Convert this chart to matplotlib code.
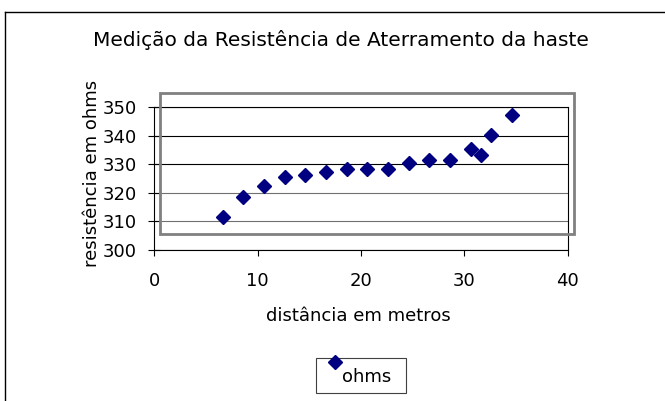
import matplotlib
matplotlib.use("Agg")
import matplotlib.pyplot as plt
from matplotlib.patches import Rectangle
from matplotlib.lines import Line2D

# leituras da haste
distancia = [6.6, 8.6, 10.6, 12.6, 14.6, 16.6, 18.6, 20.6, 22.6, 24.6, 26.6, 28.6, 30.6, 31.6, 32.6, 34.6]
ohms = [311.6, 318.7, 322.4, 325.5, 326.4, 327.4, 328.5, 328.5, 328.5, 330.4, 331.4, 331.4, 335.4, 333.4, 340.3, 347.3]
xticks = [0, 10, 20, 30, 40]
yticks = [300, 310, 320, 330, 340, 350]

W, H = 665, 401
navy = "#000080"
plt.rcParams["font.family"] = ["DejaVu Sans"]
fs = 13

fig = plt.figure(figsize=(W / 100, H / 100), dpi=100, facecolor="w")
ax = fig.add_axes([154.3 / W, 1 - 250 / H, 413.4 / W, 142.7 / H])

ax.set_xlim(0, 40)
ax.set_ylim(300, 350)
ax.set_xticks(xticks)
ax.set_yticks(yticks)
ax.yaxis.grid(True, color="k", lw=0.8)
# as duas linhas de baixo saem mais claras no original
for gl, v in zip(ax.get_ygridlines(), yticks):
    if v in (310, 320):
        gl.set_color("#707070")
ax.set_axisbelow(True)
for s in ax.spines.values():
    s.set_color("k")
    s.set_linewidth(0.8)
ax.tick_params(axis="x", direction="out", length=4, width=0.8, pad=12, labelsize=fs)
ax.tick_params(axis="y", direction="inout", length=9, width=0.8, pad=8, labelsize=fs)

ax.plot(distancia, ohms, "D", color=navy, ms=7.6, mec=navy, clip_on=False, zorder=3)

fig.text(340.5 / W, 1 - 40 / H, "Medição da Resistência de Aterramento da haste",
         ha="center", va="center", fontsize=14.5)
fig.text(358 / W, 1 - 316 / H, "distância em metros", ha="center", va="center", fontsize=fs)
fig.text(92 / W, 1 - 173 / H, "resistência em ohms", ha="center", va="center",
         rotation=90, fontsize=fs)

# moldura cinza deslocada da área do gráfico
fig.add_artist(Rectangle((160 / W, 1 - 234 / H), 414 / W, 141.3 / H, transform=fig.transFigure,
                         fill=False, ec="#808080", lw=2))

# borda externa
fig.add_artist(Line2D([5 / W, 1], [1 - 11.7 / H] * 2, transform=fig.transFigure, color="k", lw=1))
fig.add_artist(Line2D([5 / W] * 2, [0, 1 - 11.7 / H], transform=fig.transFigure, color="k", lw=1))

# legenda
fig.add_artist(Rectangle((316 / W, 1 - 393 / H), 90 / W, 35 / H, transform=fig.transFigure,
                         fill=False, ec="#404040", lw=0.8))
fig.add_artist(Line2D([335 / W], [1 - 361.7 / H], transform=fig.transFigure, marker="D",
                      color=navy, ms=7.6, ls="none"))
fig.text(342 / W, 1 - 377 / H, "ohms", ha="left", va="center", fontsize=fs)

fig.savefig("out.png", dpi=100)
